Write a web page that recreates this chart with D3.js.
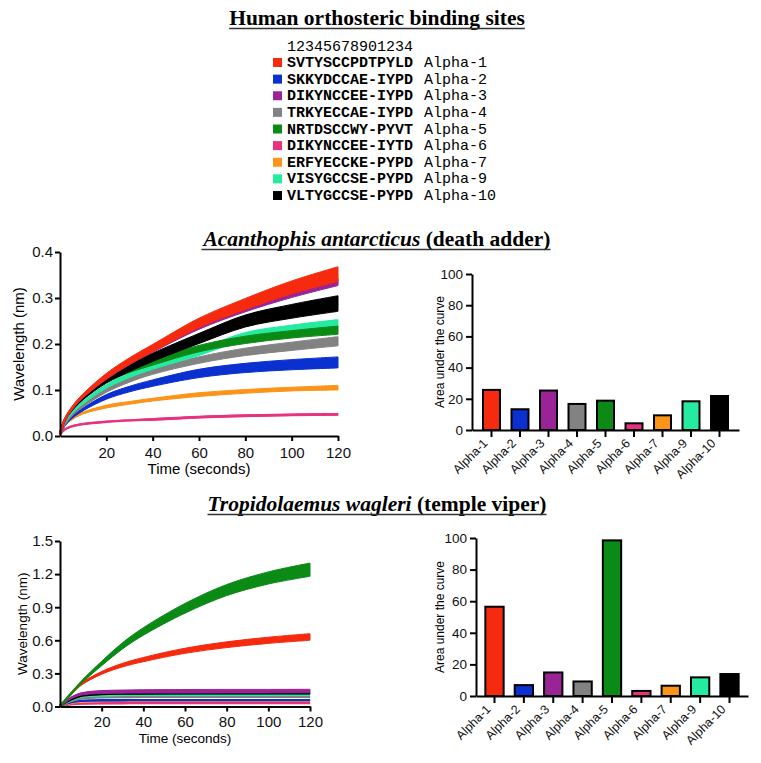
<!DOCTYPE html>
<html><head><meta charset="utf-8">
<script src="https://cdn.jsdelivr.net/npm/d3@7"></script>
<style>
body{margin:0;background:#fff;}
svg{display:block;}
</style></head>
<body>
<svg id="chart" width="761" height="763"></svg>
<script>
// ---------- data ----------
const receptors = ["Alpha-1","Alpha-2","Alpha-3","Alpha-4","Alpha-5","Alpha-6","Alpha-7","Alpha-9","Alpha-10"];
const bindingSites = ["SVTYSCCPDTPYLD","SKKYDCCAE-IYPD","DIKYNCCEE-IYPD","TRKYECCAE-IYPD","NRTDSCCWY-PYVT","DIKYNCCEE-IYTD","ERFYECCKE-PYPD","VISYGCCSE-PYPD","VLTYGCCSE-PYPD"];
const positionRuler = "12345678901234";
const receptorColors = ["#f52a0e","#0a30d0","#9a2397","#828282","#0b8a16","#e8327f","#fb9418","#24eba0","#000000"];

const timePoints = [0,2,5,10,20,30,40,60,80,100,120];
const timeTicks = [20,40,60,80,100,120];
const adderYTicks = [0,0.1,0.2,0.3,0.4];
const viperYTicks = [0,0.3,0.6,0.9,1.2,1.5];
const aucTicks = [0,20,40,60,80,100];

// Acanthophis antarcticus – wavelength shift (nm), mean
const adderAlpha1  = [0.005,0.035,0.060,0.088,0.130,0.163,0.191,0.246,0.287,0.323,0.352];
const adderAlpha2  = [0.005,0.024,0.040,0.058,0.085,0.102,0.115,0.136,0.148,0.155,0.160];
const adderAlpha3  = [0.005,0.033,0.058,0.086,0.127,0.159,0.187,0.238,0.277,0.309,0.335];
const adderAlpha4  = [0.005,0.026,0.045,0.066,0.099,0.122,0.140,0.165,0.183,0.195,0.206];
const adderAlpha5  = [0.005,0.034,0.058,0.085,0.120,0.143,0.160,0.190,0.209,0.221,0.230];
const adderAlpha6  = [0.003,0.014,0.021,0.026,0.031,0.034,0.036,0.041,0.044,0.046,0.047];
const adderAlpha7  = [0.005,0.024,0.037,0.050,0.064,0.072,0.079,0.090,0.097,0.102,0.105];
const adderAlpha9  = [0.005,0.030,0.050,0.073,0.108,0.132,0.151,0.182,0.217,0.233,0.245];
const adderAlpha10 = [0.005,0.034,0.057,0.083,0.121,0.148,0.171,0.212,0.250,0.271,0.288];
// half-width of the band (error)
const adderErrAlpha1  = [0,0.002,0.003,0.004,0.006,0.007,0.008,0.010,0.012,0.014,0.016];
const adderErrAlpha2  = [0,0.001,0.002,0.003,0.005,0.006,0.007,0.009,0.010,0.011,0.012];
const adderErrAlpha3  = [0,0.001,0.002,0.003,0.004,0.004,0.005,0.006,0.007,0.008,0.008];
const adderErrAlpha4  = [0,0.001,0.002,0.003,0.004,0.005,0.006,0.007,0.008,0.009,0.010];
const adderErrAlpha5  = [0,0.001,0.002,0.003,0.004,0.005,0.006,0.007,0.008,0.008,0.009];
const adderErrAlpha6  = [0,0.001,0.001,0.001,0.001,0.001,0.002,0.002,0.002,0.002,0.002];
const adderErrAlpha7  = [0,0.001,0.002,0.002,0.003,0.003,0.003,0.004,0.004,0.004,0.005];
const adderErrAlpha9  = [0,0.001,0.002,0.003,0.004,0.005,0.006,0.007,0.008,0.008,0.008];
const adderErrAlpha10 = [0,0.002,0.003,0.004,0.006,0.008,0.009,0.011,0.013,0.015,0.017];

// Tropidolaemus wagleri – wavelength shift (nm), mean
const viperAlpha1  = [0.005,0.045,0.110,0.200,0.305,0.375,0.425,0.505,0.560,0.600,0.630];
const viperAlpha2  = [0.003,0.020,0.038,0.051,0.056,0.057,0.058,0.058,0.058,0.058,0.058];
const viperAlpha3  = [0.003,0.035,0.075,0.113,0.131,0.135,0.137,0.138,0.139,0.139,0.140];
const viperAlpha4  = [0.003,0.022,0.048,0.073,0.084,0.086,0.087,0.088,0.088,0.088,0.088];
const viperAlpha5  = [0.005,0.045,0.110,0.215,0.390,0.550,0.680,0.890,1.055,1.165,1.240];
const viperAlpha6  = [0.002,0.011,0.019,0.026,0.029,0.030,0.031,0.031,0.032,0.032,0.032];
const viperAlpha7  = [0.002,0.016,0.032,0.045,0.050,0.051,0.052,0.052,0.052,0.052,0.052];
const viperAlpha9  = [0.003,0.026,0.056,0.089,0.102,0.105,0.106,0.107,0.108,0.108,0.108];
const viperAlpha10 = [0.003,0.029,0.062,0.097,0.113,0.117,0.118,0.119,0.120,0.120,0.120];
const viperErrAlpha1  = [0,0.002,0.004,0.008,0.012,0.016,0.019,0.023,0.026,0.028,0.030];
const viperErrAlpha2  = [0,0.001,0.002,0.003,0.003,0.003,0.003,0.003,0.003,0.003,0.003];
const viperErrAlpha3  = [0,0.003,0.006,0.010,0.013,0.014,0.015,0.016,0.016,0.016,0.016];
const viperErrAlpha4  = [0,0.001,0.002,0.003,0.003,0.003,0.003,0.003,0.003,0.003,0.003];
const viperErrAlpha5  = [0,0.003,0.006,0.010,0.020,0.028,0.034,0.044,0.050,0.055,0.060];
const viperErrAlpha6  = [0,0.001,0.002,0.003,0.003,0.003,0.003,0.003,0.003,0.003,0.003];
const viperErrAlpha7  = [0,0.001,0.002,0.003,0.003,0.003,0.003,0.003,0.003,0.003,0.003];
const viperErrAlpha9  = [0,0.001,0.002,0.004,0.005,0.005,0.005,0.005,0.005,0.005,0.005];
const viperErrAlpha10 = [0,0.001,0.002,0.003,0.004,0.004,0.004,0.004,0.004,0.004,0.004];

// Area under the curve
const adderAUC = [25.7,13.3,25.3,16.7,18.8,4.3,9.4,18.4,21.8];
const viperAUC = [56.5,6.9,14.9,9.2,98.5,3.2,6.5,11.8,13.9];

const adderDrawOrder = [5,6,1,3,7,4,8,2,0];
const viperDrawOrder = [5,6,1,3,7,8,2,0,4];

// ---------- build ----------
const adderMeans = [adderAlpha1,adderAlpha2,adderAlpha3,adderAlpha4,adderAlpha5,adderAlpha6,adderAlpha7,adderAlpha9,adderAlpha10];
const adderErrs = [adderErrAlpha1,adderErrAlpha2,adderErrAlpha3,adderErrAlpha4,adderErrAlpha5,adderErrAlpha6,adderErrAlpha7,adderErrAlpha9,adderErrAlpha10];
const viperMeans = [viperAlpha1,viperAlpha2,viperAlpha3,viperAlpha4,viperAlpha5,viperAlpha6,viperAlpha7,viperAlpha9,viperAlpha10];
const viperErrs = [viperErrAlpha1,viperErrAlpha2,viperErrAlpha3,viperErrAlpha4,viperErrAlpha5,viperErrAlpha6,viperErrAlpha7,viperErrAlpha9,viperErrAlpha10];

const svg = d3.select("#chart");
const SERIF = "'Liberation Serif','DejaVu Serif',serif";
const SANS = "'Liberation Sans',Arial,sans-serif";
const MONO = "'Liberation Mono','DejaVu Sans Mono',monospace";

function underlinedTitle(y, parts, size){
  const t = svg.append("text").attr("x", 377).attr("y", y).attr("text-anchor","middle")
    .attr("font-family", SERIF).attr("font-size", size).attr("font-weight","bold").attr("fill","#000");
  parts.forEach(p => t.append("tspan").attr("font-style", p.italic ? "italic" : "normal").text(p.text));
  const bb = t.node().getBBox();
  svg.append("line").attr("x1", bb.x).attr("x2", bb.x + bb.width)
    .attr("y1", y + 3.5).attr("y2", y + 3.5).attr("stroke","#333").attr("stroke-width",1.6);
}

// Title and legend
underlinedTitle(25, [{text:"Human orthosteric binding sites"}], 21.5);
svg.append("text").attr("x",287).attr("y",51).attr("font-family",MONO).attr("font-size",15).text(positionRuler);
const leg = svg.append("g");
const legY = d3.scalePoint().domain(receptors).range([67,200]);
receptors.forEach((r,i)=>{
  const y = legY(r);
  leg.append("rect").attr("x",273).attr("y",y-9).attr("width",9).attr("height",9).attr("fill",receptorColors[i]);
  leg.append("text").attr("x",287).attr("y",y).attr("font-family",MONO).attr("font-size",15).attr("font-weight","bold").text(bindingSites[i]);
  leg.append("text").attr("x",424).attr("y",y).attr("font-family",MONO).attr("font-size",15).text(r);
});

underlinedTitle(246, [{text:"Acanthophis antarcticus",italic:true},{text:" (death adder)"}], 21.5);
underlinedTitle(511, [{text:"Tropidolaemus wagleri",italic:true},{text:" (temple viper)"}], 21.5);

function styleAxis(g, fontSize){
  g.selectAll(".domain").attr("stroke","#000").attr("stroke-width",2);
  g.selectAll(".tick line").attr("stroke","#000").attr("stroke-width",2);
  g.selectAll(".tick text").attr("font-family",SANS).attr("font-size",fontSize).attr("fill","#111");
}

function lineChart(cfg){
  const x = d3.scaleLinear().domain([0,120]).range(cfg.xr);
  const y = d3.scaleLinear().domain(cfg.yd).range(cfg.yr);
  const g = svg.append("g");
  const crv = d3.curveCatmullRom.alpha(0.5);
  const area = d3.area().curve(crv)
    .x((d,i)=>x(timePoints[i])).y0(d=>y(d[0]-d[1])).y1(d=>y(d[0]+d[1]));
  const line = d3.line().curve(crv).x((d,i)=>x(timePoints[i])).y(d=>y(d[0]));
  cfg.order.forEach(k=>{
    const pts = cfg.means[k].map((m,i)=>[m, cfg.errs[k][i]]);
    g.append("path").attr("d", area(pts)).attr("fill", receptorColors[k]).attr("stroke", receptorColors[k]).attr("stroke-width",1);
    g.append("path").attr("d", line(pts)).attr("fill","none").attr("stroke", receptorColors[k]).attr("stroke-width",2.4);
  });
  const ax = svg.append("g").attr("transform",`translate(0,${cfg.yr[0]})`)
    .call(d3.axisBottom(x).tickValues(timeTicks).tickSize(5).tickSizeOuter(0).tickPadding(cfg.xpad));
  styleAxis(ax, 15);
  const ay = svg.append("g").attr("transform",`translate(${cfg.xr[0]},0)`)
    .call(d3.axisLeft(y).tickValues(cfg.yticks).tickFormat(d3.format(".1f")).tickSize(5).tickSizeOuter(0).tickPadding(2));
  styleAxis(ay, 15);
  svg.append("text").attr("transform",`translate(${cfg.ylx},${(cfg.yr[0]+cfg.yr[1])/2}) rotate(-90)`)
    .attr("text-anchor","middle").attr("dominant-baseline","central").attr("font-family",SANS).attr("font-size",cfg.labSize).text("Wavelength (nm)");
  svg.append("text").attr("x",(cfg.xr[0]+cfg.xr[1])/2).attr("y",cfg.xly).attr("text-anchor","middle")
    .attr("font-family",SANS).attr("font-size",cfg.labSize).text("Time (seconds)");
}

function barChart(cfg){
  const x = d3.scaleBand().domain(receptors).range(cfg.xr).paddingInner(cfg.pi).paddingOuter(cfg.po);
  const y = d3.scaleLinear().domain([0,100]).range(cfg.yr);
  const g = svg.append("g");
  g.selectAll("rect").data(cfg.values).join("rect")
    .attr("x",(d,i)=>x(receptors[i])).attr("width",x.bandwidth())
    .attr("y",d=>y(d)).attr("height",d=>y(0)-y(d))
    .attr("fill",(d,i)=>receptorColors[i]).attr("stroke","#000").attr("stroke-width",2);
  const ax = svg.append("g").attr("transform",`translate(0,${cfg.yr[0]})`)
    .call(d3.axisBottom(x).tickSize(7).tickSizeOuter(0).tickPadding(3));
  styleAxis(ax, 12.5);
  ax.selectAll(".tick text").attr("text-anchor","end").attr("dy",null)
    .attr("transform","translate(-3,14) rotate(-45)").attr("y",0).attr("x",0);
  const ay = svg.append("g").attr("transform",`translate(${cfg.xr[0]},0)`)
    .call(d3.axisLeft(y).tickValues(aucTicks).tickSize(6).tickSizeOuter(0).tickPadding(3));
  styleAxis(ay, 13.5);
  svg.append("text").attr("transform",`translate(440,${(cfg.yr[0]+cfg.yr[1])/2}) rotate(-90)`)
    .attr("text-anchor","middle").attr("dominant-baseline","central").attr("font-family",SANS).attr("font-size",12).text("Area under the curve");
}

lineChart({xr:[60,338], yr:[436,252], yd:[0,0.4], yticks:adderYTicks, means:adderMeans, errs:adderErrs, order:adderDrawOrder,
  xpad:6, ylx:18, xly:473.5, labSize:15});
lineChart({xr:[60,310], yr:[706.5,541], yd:[0,1.5], yticks:viperYTicks, means:viperMeans, errs:viperErrs, order:viperDrawOrder,
  xpad:5, ylx:22, xly:743, labSize:13.5});
barChart({xr:[472,739], yr:[430,274], values:adderAUC, pi:0.404, po:0.386});
barChart({xr:[476,748], yr:[696,538], values:viperAUC, pi:0.377, po:0.318});
</script>
</body></html>
